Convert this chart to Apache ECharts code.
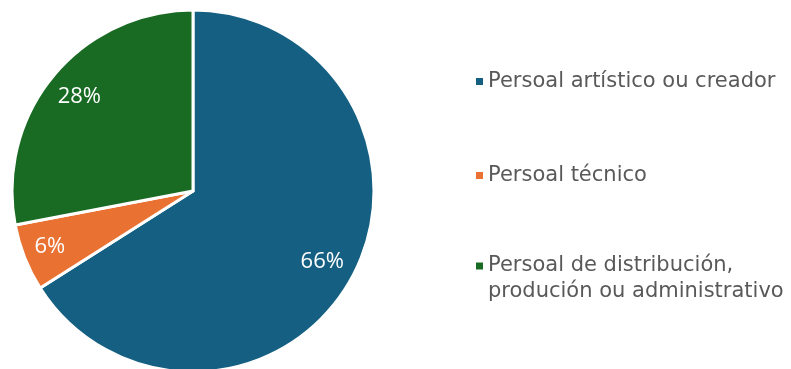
<!DOCTYPE html>
<html>
<head>
<meta charset="utf-8">
<script src="https://cdn.jsdelivr.net/npm/echarts@6/dist/echarts.min.js"></script>
<style>
html, body { margin: 0; padding: 0; background: #fff; }
#chart { width: 791px; height: 369px; }
</style>
</head>
<body>
<div id="chart"></div>
<script>
var categories = ['Persoal artístico ou creador', 'Persoal técnico', 'Persoal de distribución,\nprodución ou administrativo'];
var values = [66, 6, 28];
var colors = ['#156082', '#E97132', '#196B24'];

// legend markers: the invisible move-to points stretch the box so the square
// sits in the middle (one-line items) or on the first line (two-line item)
var iconMiddle = 'path://M0,0M7,33M0,13h7v7h-7z';
var iconTop = 'path://M0,0M7,33M0,0h7v7h-7z';

var data = categories.map(function (name, i) {
	return { name: name, value: values[i], itemStyle: { color: colors[i] } };
});

var chart = echarts.init(document.getElementById('chart'));
chart.setOption({
	animation: false,
	legend: {
		orient: 'vertical',
		left: 471,
		top: 60,
		itemWidth: 7,
		itemHeight: 33,
		itemGap: 61,
		symbolKeepAspect: false,
		selectedMode: false,
		itemStyle: { borderWidth: 0 },
		data: categories.map(function (name, i) {
			return { name: name, icon: name.indexOf('\n') >= 0 ? iconTop : iconMiddle };
		}),
		textStyle: {
			fontFamily: 'DejaVu Sans',
			fontSize: 21,
			color: '#595959',
			lineHeight: 26
		}
	},
	series: [
		{
			type: 'pie',
			center: [193, 191],
			radius: [0, 181],
			startAngle: 90,
			clockwise: true,
			silent: true,
			itemStyle: { borderColor: '#fff', borderWidth: 3 },
			label: { show: false },
			labelLine: { show: false },
			data: data
		},
		{
			// transparent ring used only to place the percentage labels
			type: 'pie',
			center: [193, 191],
			radius: [108, 181],
			startAngle: 90,
			clockwise: true,
			silent: true,
			legendHoverLink: false,
			itemStyle: { color: 'rgba(0,0,0,0)', borderWidth: 0 },
			label: {
				show: true,
				position: 'inside',
				formatter: '{c}%',
				color: '#fff',
				fontFamily: 'Open Sans',
				fontSize: 22
			},
			labelLine: { show: false },
			data: categories.map(function (name, i) {
				var d = { name: name, value: values[i] };
				if (values[i] < 10) d.label = { offset: [-6, 1] };
				return d;
			})
		}
	]
});
</script>
</body>
</html>
